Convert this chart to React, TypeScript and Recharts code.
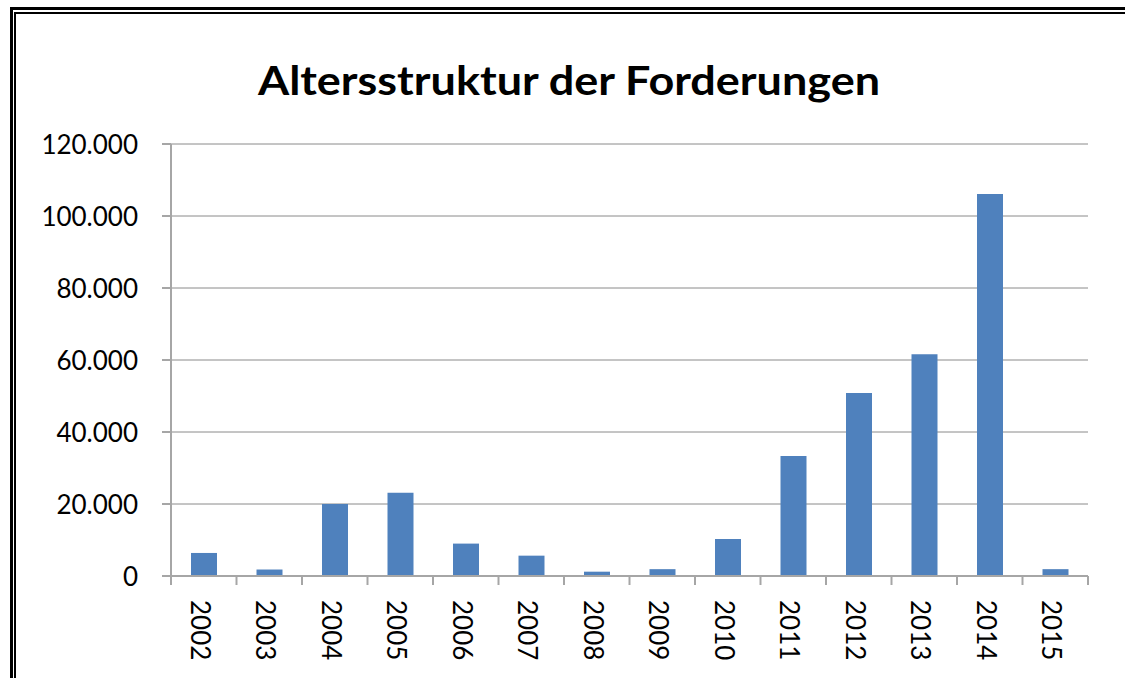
import { Bar, BarChart, CartesianGrid, XAxis, YAxis } from "recharts";

const years = ["2002", "2003", "2004", "2005", "2006", "2007", "2008", "2009", "2010", "2011", "2012", "2013", "2014", "2015"];
const amounts = [6400, 1800, 20000, 23100, 9000, 5650, 1200, 1900, 10300, 33300, 50800, 61600, 106100, 1900];
const yTicks = [0, 20000, 40000, 60000, 80000, 100000, 120000];
const boundaryTicks = years.map((_, i) => i).concat(years.length);

const data = years.map((year, i) => ({ year, value: amounts[i] }));

const FONT = "Lato, 'Open Sans', sans-serif";
const AXIS_GREY = "#a6a6a6";
const GRID_GREY = "#8a8a8a";

const fmt = (v: number) => v.toLocaleString("de-DE");

const YTick = (props: any) => {
  const { x, y, payload } = props;
  return (
    <text
      x={x}
      y={y}
      textAnchor="end"
      dominantBaseline="central"
      fontFamily={FONT}
      fontSize={26}
      fill="#000"
    >
      {fmt(payload.value)}
    </text>
  );
};

const XTick = (props: any) => {
  const { x, y, payload } = props;
  const tx = x - 3;
  return (
    <text
      x={tx}
      y={y}
      textAnchor="start"
      dominantBaseline="central"
      fontFamily={FONT}
      fontSize={26}
      fill="#000"
      transform={`rotate(90, ${tx}, ${y})`}
    >
      {payload.value}
    </text>
  );
};

// boundary axis only needs its tick marks, no labels
const NoLabel = () => <g />;

export default function App() {
  return (
    <div
      style={{
        position: "absolute",
        left: 0,
        top: 0,
        width: 1125,
        height: 678,
        overflow: "hidden",
        background: "#fff",
      }}
    >
      {/* double frame, cut off at right and bottom */}
      <div
        style={{
          position: "absolute",
          left: 10,
          top: 7,
          width: 1200,
          height: 800,
          border: "3px solid #000",
        }}
      />
      <div
        style={{
          position: "absolute",
          left: 14,
          top: 12,
          width: 1200,
          height: 800,
          border: "2px solid #000",
        }}
      />

      <svg
        width={1125}
        height={120}
        style={{ position: "absolute", left: 0, top: 0 }}
      >
        <text
          x={569}
          y={95}
          textAnchor="middle"
          fontFamily={FONT}
          fontWeight={700}
          fontSize={40}
          textLength={622}
          lengthAdjust="spacingAndGlyphs"
          fill="#000"
        >
          Altersstruktur der Forderungen
        </text>
      </svg>

      <div style={{ position: "absolute", left: 0, top: 0 }}>
        <BarChart
          width={1125}
          height={678}
          data={data}
          margin={{ top: 144, right: 37, left: 0, bottom: 0 }}
        >
          <CartesianGrid vertical={false} stroke={GRID_GREY} strokeWidth={1} />
          <XAxis
            xAxisId="a"
            type="number"
            dataKey={() => 0}
            domain={[0, years.length]}
            ticks={boundaryTicks}
            interval={0}
            height={9}
            tick={<NoLabel />}
            tickSize={9}
            axisLine={{ stroke: AXIS_GREY, strokeWidth: 2 }}
            tickLine={{ stroke: AXIS_GREY, strokeWidth: 2 }}
          />
          <XAxis
            xAxisId="b"
            dataKey="year"
            height={93}
            interval={0}
            axisLine={false}
            tickLine={false}
            tickSize={0}
            tickMargin={15}
            tick={<XTick />}
          />
          <YAxis
            width={171}
            domain={[0, 120000]}
            ticks={yTicks}
            interval={0}
            tickSize={9}
            tickMargin={24}
            axisLine={{ stroke: AXIS_GREY, strokeWidth: 2 }}
            tickLine={{ stroke: AXIS_GREY, strokeWidth: 2 }}
            tick={<YTick />}
          />
          <Bar
            xAxisId="b"
            dataKey="value"
            fill="#4f81bd"
            barSize={26}
            isAnimationActive={false}
          />
        </BarChart>
      </div>
    </div>
  );
}
